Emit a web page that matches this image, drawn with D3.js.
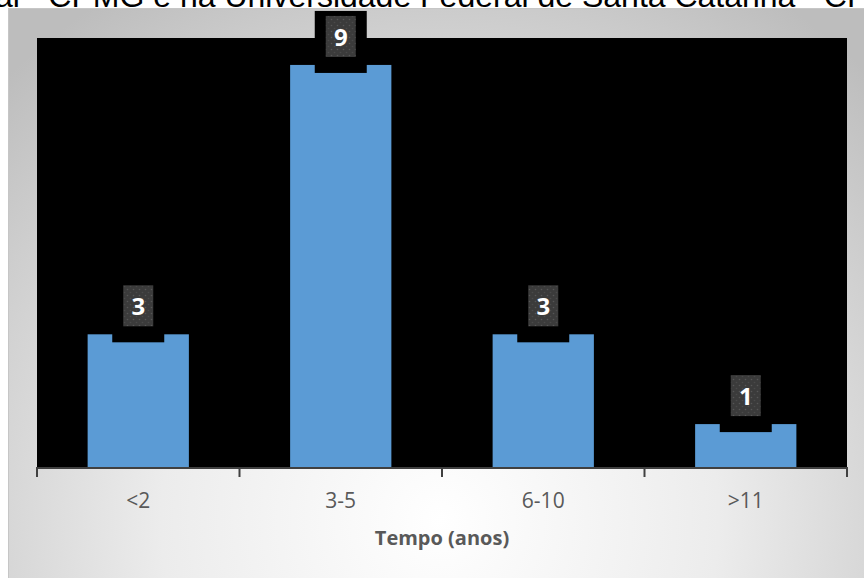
<!DOCTYPE html>
<html>
<head>
<meta charset="utf-8">
<script src="https://cdn.jsdelivr.net/npm/d3@7"></script>
<style>
  html, body { margin: 0; padding: 0; background: #ffffff; }
  svg { display: block; }
</style>
</head>
<body>
<svg id="chart" width="864" height="578"></svg>
<script>
// Chart data
const categories = ["<2", "3-5", "6-10", ">11"];
const values = [3, 9, 3, 1];
const titleText = "al - CPMG e na Universidade Federal de Santa Catarina - CP";
const axisTitle = "Tempo (anos)";

const W = 864, H = 578;
const plot = { left: 37, right: 847, top: 38, bottom: 469 };

const svg = d3.select("#chart");
const defs = svg.append("defs");

// Soft radial background of the chart area
const grad = defs.append("radialGradient")
  .attr("id", "bg").attr("gradientUnits", "userSpaceOnUse")
  .attr("cx", 440).attr("cy", 520).attr("r", 620);
grad.append("stop").attr("offset", "0%").attr("stop-color", "#ffffff");
grad.append("stop").attr("offset", "45%").attr("stop-color", "#ececec");
grad.append("stop").attr("offset", "100%").attr("stop-color", "#bdbdbd");

// Dotted fill for the value label boxes
const pat = defs.append("pattern")
  .attr("id", "dots").attr("patternUnits", "userSpaceOnUse")
  .attr("width", 6).attr("height", 6);
pat.append("rect").attr("width", 6).attr("height", 6).attr("fill", "#3b3b3b");
pat.append("circle").attr("cx", 1.5).attr("cy", 1.5).attr("r", 0.8).attr("fill", "#565656");
pat.append("circle").attr("cx", 4.5).attr("cy", 4.5).attr("r", 0.8).attr("fill", "#4a4a4a");

// Title line (runs off the top of the page)
svg.append("text")
  .attr("x", -5).attr("y", 7)
  .attr("font-family", "'Liberation Sans', Arial, sans-serif")
  .attr("font-size", 32)
  .attr("fill", "#000000")
  .text(titleText);

// Chart area
svg.append("rect")
  .attr("x", 8).attr("y", 8).attr("width", W - 8).attr("height", H - 8)
  .attr("fill", "url(#bg)");
svg.append("line").attr("x1", 8).attr("x2", W).attr("y1", 8.5).attr("y2", 8.5)
  .attr("stroke", "#c6c6c6").attr("stroke-width", 1);
svg.append("line").attr("x1", 8.5).attr("x2", 8.5).attr("y1", 8).attr("y2", H)
  .attr("stroke", "#c6c6c6").attr("stroke-width", 1);

// Plot area
svg.append("rect")
  .attr("x", plot.left).attr("y", plot.top)
  .attr("width", plot.right - plot.left).attr("height", plot.bottom - plot.top)
  .attr("fill", "#000000");

const x = d3.scaleBand()
  .domain(categories)
  .range([plot.left, plot.right])
  .paddingInner(0.5).paddingOuter(0.25);

const y = d3.scaleLinear()
  .domain([0, 9.6])
  .range([plot.bottom, plot.top]);

// Bars
svg.append("g").selectAll("rect")
  .data(values)
  .join("rect")
  .attr("x", (d, i) => x(categories[i]))
  .attr("y", d => y(d))
  .attr("width", x.bandwidth())
  .attr("height", d => y(0) - y(d))
  .attr("fill", "#5b9bd5");

// Value labels: black backing plus dotted dark box
const labels = svg.append("g");
values.forEach((d, i) => {
  const cx = x(categories[i]) + x.bandwidth() / 2;
  const top = y(d);
  labels.append("rect")
    .attr("x", cx - 26).attr("y", top - 54)
    .attr("width", 52).attr("height", 62)
    .attr("fill", "#000000");
  labels.append("rect")
    .attr("x", cx - 15).attr("y", top - 49)
    .attr("width", 30).attr("height", 41)
    .attr("fill", "url(#dots)");
  labels.append("text")
    .attr("x", cx).attr("y", top - 19)
    .attr("text-anchor", "middle")
    .attr("font-family", "'Open Sans', sans-serif")
    .attr("font-weight", 700)
    .attr("font-size", 24)
    .attr("fill", "#ffffff")
    .text(d);
});

// Category axis
const axis = svg.append("g")
  .attr("transform", `translate(0,${plot.bottom - 1})`)
  .call(d3.axisBottom(x).tickSize(0).tickPadding(0));
axis.select(".domain").remove();
axis.selectAll("text")
  .attr("y", 40)
  .attr("dy", null)
  .attr("font-family", "'Open Sans', sans-serif")
  .attr("font-size", 21)
  .attr("fill", "#595959");

svg.append("line")
  .attr("x1", plot.left).attr("x2", plot.right)
  .attr("y1", plot.bottom - 1).attr("y2", plot.bottom - 1)
  .attr("stroke", "#404040").attr("stroke-width", 2);

// Tick marks on category boundaries
const bounds = d3.range(categories.length + 1).map(i => plot.left + i * x.step());
svg.append("g").selectAll("line")
  .data(bounds)
  .join("line")
  .attr("x1", d => d).attr("x2", d => d)
  .attr("y1", plot.bottom - 2).attr("y2", plot.bottom + 8)
  .attr("stroke", "#404040").attr("stroke-width", 2);

// Axis title
svg.append("text")
  .attr("x", (plot.left + plot.right) / 2).attr("y", 545)
  .attr("text-anchor", "middle")
  .attr("font-family", "'Open Sans', sans-serif")
  .attr("font-weight", 700)
  .attr("font-size", 20)
  .attr("fill", "#595959")
  .text(axisTitle);
</script>
</body>
</html>
